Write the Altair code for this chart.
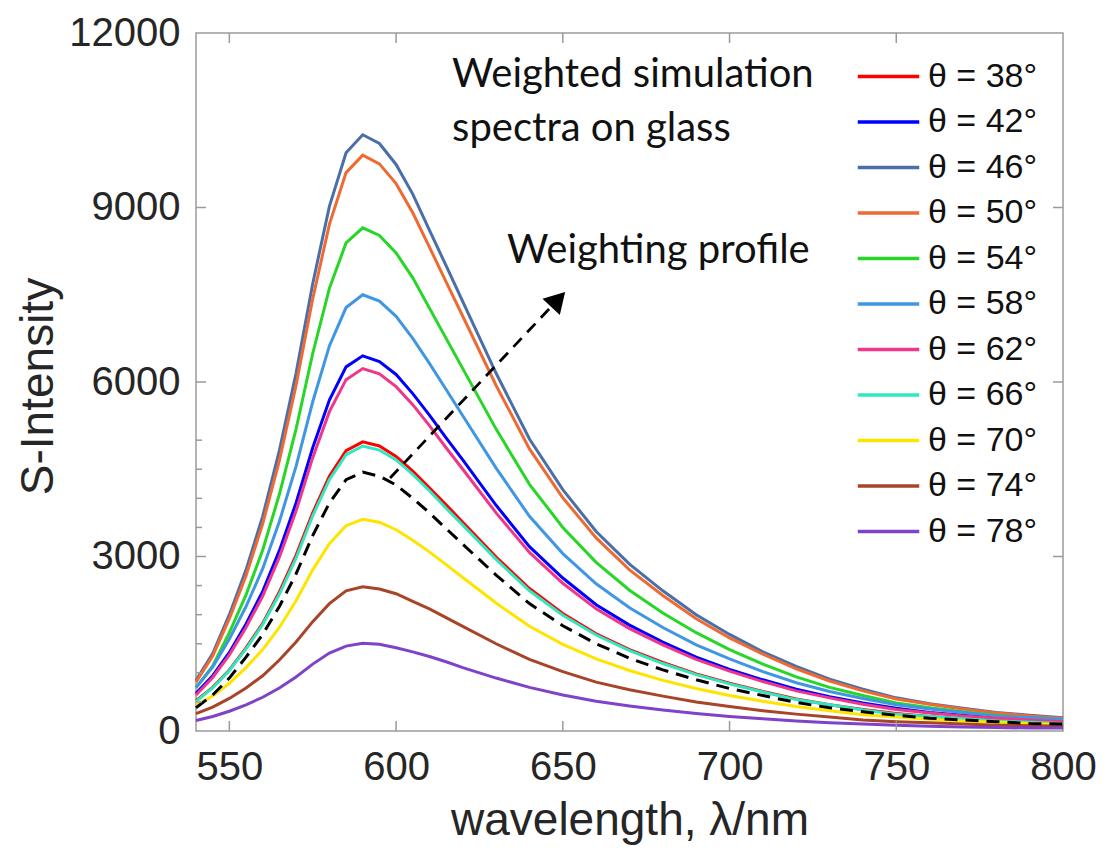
import altair as alt
import pandas as pd

# ---------------- data ----------------
wavelength = [540, 545, 550, 555, 560, 565, 570, 575, 580, 585, 590, 595, 600, 605, 610, 615, 620,
              630, 640, 650, 660, 670, 680, 690, 700, 710, 720, 730, 740, 750, 760, 770, 780, 790, 800]

angles = ["38", "42", "46", "50", "54", "58", "62", "66", "70", "74", "78"]
colors = ["#ff0000", "#0000ff", "#4a6fa8", "#ef6a32", "#27d627", "#3f97e3",
          "#f0368a", "#30e8c0", "#ffe400", "#a84428", "#7e43c9"]

s38 = [520, 750, 1050, 1430, 1850, 2390, 3020, 3750, 4380, 4820, 4970, 4900, 4720, 4470, 4180, 3890, 3590,
       2990, 2450, 2020, 1670, 1400, 1180, 980, 820, 680, 550, 450, 370, 300, 250, 210, 170, 150, 130]
s42 = [650, 950, 1350, 1840, 2400, 3100, 3920, 4870, 5690, 6260, 6450, 6350, 6130, 5800, 5430, 5040, 4660,
       3880, 3170, 2630, 2170, 1820, 1530, 1270, 1060, 880, 720, 590, 480, 390, 320, 270, 230, 190, 170]
s46 = [870, 1330, 2000, 2770, 3690, 4820, 6150, 7690, 9020, 9940, 10250, 10100, 9740, 9230, 8610, 8000, 7380,
       6150, 5020, 4150, 3430, 2870, 2410, 2000, 1660, 1360, 1110, 890, 720, 570, 470, 390, 320, 270, 230]
s50 = [840, 1290, 1930, 2670, 3560, 4650, 5940, 7430, 8710, 9600, 9900, 9750, 9410, 8910, 8320, 7720, 7130,
       5940, 4850, 4010, 3320, 2770, 2330, 1930, 1600, 1320, 1070, 860, 690, 550, 460, 380, 310, 260, 220]
s54 = [740, 1120, 1690, 2340, 3110, 4070, 5190, 6490, 7610, 8390, 8650, 8520, 8220, 7790, 7270, 6750, 6230,
       5190, 4240, 3500, 2900, 2420, 2030, 1690, 1400, 1150, 930, 750, 610, 480, 400, 330, 270, 220, 190]
s58 = [750, 1100, 1580, 2140, 2790, 3600, 4550, 5660, 6620, 7280, 7500, 7390, 7130, 6750, 6320, 5870, 5420,
       4520, 3690, 3050, 2530, 2120, 1780, 1480, 1240, 1020, 830, 680, 560, 450, 380, 320, 260, 230, 200]
s62 = [620, 920, 1310, 1780, 2320, 2990, 3780, 4700, 5490, 6040, 6230, 6140, 5920, 5610, 5250, 4870, 4500,
       3750, 3070, 2540, 2100, 1760, 1480, 1230, 1030, 850, 690, 570, 460, 370, 310, 260, 220, 190, 160]
s66 = [510, 740, 1040, 1410, 1830, 2350, 2970, 3700, 4320, 4750, 4900, 4830, 4660, 4410, 4130, 3830, 3540,
       2950, 2410, 1990, 1650, 1380, 1160, 970, 810, 670, 540, 450, 360, 290, 250, 210, 170, 150, 130]
s70 = [440, 600, 820, 1090, 1400, 1780, 2240, 2770, 3220, 3530, 3640, 3590, 3460, 3280, 3080, 2860, 2640,
       2200, 1800, 1490, 1240, 1040, 870, 730, 610, 510, 420, 350, 280, 240, 200, 170, 150, 130, 110]
s74 = [300, 410, 560, 740, 950, 1220, 1530, 1880, 2190, 2410, 2480, 2440, 2360, 2230, 2100, 1950, 1800,
       1500, 1230, 1020, 840, 710, 600, 500, 420, 350, 290, 240, 190, 160, 140, 120, 100, 90, 80]
s78 = [180, 250, 340, 450, 580, 740, 930, 1150, 1340, 1460, 1510, 1490, 1430, 1360, 1280, 1190, 1090,
       910, 750, 620, 510, 430, 360, 300, 250, 210, 170, 140, 120, 100, 80, 70, 60, 50, 50]
series = [s38, s42, s46, s50, s54, s58, s62, s66, s70, s74, s78]

weighting = [400, 620, 910, 1270, 1660, 2140, 2700, 3360, 3920, 4320, 4450, 4380, 4230, 4000, 3750, 3480, 3210,
             2680, 2190, 1810, 1500, 1250, 1050, 880, 730, 610, 490, 400, 330, 270, 220, 190, 160, 130, 120]

x_ticks = [550, 600, 650, 700, 750, 800]
y_ticks = [0, 3000, 6000, 9000, 12000]
y_minor = [500, 1000, 1500, 2000, 2500, 3500, 4000, 4500, 5000]

arrow_wl = [598.2, 648.6]
arrow_I = [4350, 7420]
head_wl = [648.6]
head_I = [7420]

notes = ["Weighted simulation", "spectra on glass", "Weighting profile"]
notes_wl = [616.8, 616.8, 633.3]
notes_I = [11071, 10143, 8045]

# ---------------- layout constants ----------------
W, H = 867, 698
AX = "#9a9a9a"
TXT = "#262626"
labels = [f"θ = {a}°" for a in angles]

rows = []
for lab, vals in zip(labels, series):
    for wl, v in zip(wavelength, vals):
        rows.append({"series": lab, "wl": wl, "I": v})
df = pd.DataFrame(rows)
dfw = pd.DataFrame({"wl": wavelength, "I": weighting})

xscale = alt.Scale(domain=[540, 800], nice=False, zero=False)
yscale = alt.Scale(domain=[0, 12000], nice=False)

xaxis = alt.Axis(values=x_ticks, ticks=False, domain=False, grid=False, labelFontSize=40,
                 labelFont="Liberation Sans", labelColor=TXT, labelPadding=16, labelFlush=False,
                 title="wavelength, λ/nm", titleFontSize=46, titleFont="Liberation Sans",
                 titleFontWeight="normal", titleColor=TXT, titleBaseline="alphabetic", titleY=103)
yaxis = alt.Axis(values=y_ticks, ticks=False, domain=False, grid=False, labelFontSize=40,
                 labelFont="Liberation Sans", labelColor=TXT, labelPadding=16, labelFlush=False,
                 format="d", title="S-Intensity", titleFontSize=46, titleFont="Liberation Sans",
                 titleFontWeight="normal", titleColor=TXT, titleAngle=270, titleX=-158, titleY=H / 2 + 4,
                 titleBaseline="middle", titleAlign="center")

lines = alt.Chart(df).mark_line(strokeWidth=3).encode(
    x=alt.X("wl:Q", scale=xscale, axis=xaxis),
    y=alt.Y("I:Q", scale=yscale, axis=yaxis),
    color=alt.Color("series:N", scale=alt.Scale(domain=labels, range=colors), title=None,
                    legend=alt.Legend(orient="none", legendX=670, legendY=21, padding=0,
                                      symbolType="M-1.5,0L1.5,0", symbolSize=1681,
                                      symbolStrokeWidth=3.5, labelFontSize=34,
                                      labelFont="Liberation Sans", labelColor="#111111",
                                      labelOffset=17, rowPadding=5.5)),
)

wline = alt.Chart(dfw).mark_line(color="black", strokeWidth=3, strokeDash=[13, 8]).encode(
    x=alt.X("wl:Q"), y=alt.Y("I:Q"))

arrow = alt.Chart(pd.DataFrame({"wl": arrow_wl, "I": arrow_I})).mark_line(
    color="black", strokeWidth=2.8, strokeDash=[12, 8]).encode(x="wl:Q", y="I:Q")
head = alt.Chart(pd.DataFrame({"wl": head_wl, "I": head_I})).mark_point(
    shape="triangle-up", filled=True, size=560, angle=43, color="black", opacity=1).encode(
    x="wl:Q", y="I:Q")

text = alt.Chart(pd.DataFrame({"t": notes, "wl": notes_wl, "I": notes_I})).mark_text(
    align="left", baseline="alphabetic", font="Lato", fontSize=40, color="#111111").encode(
    x="wl:Q", y="I:Q", text="t:N")

dxt = pd.DataFrame({"wl": x_ticks[:-1]})
dyt = pd.DataFrame({"I": y_ticks[1:-1]})
dym = pd.DataFrame({"I": y_minor})
tick_style = dict(color=AX, strokeWidth=1.5)
t_bottom = alt.Chart(dxt).mark_rule(**tick_style).encode(x="wl:Q", y=alt.value(H), y2=alt.value(H - 10))
t_top = alt.Chart(dxt).mark_rule(**tick_style).encode(x="wl:Q", y=alt.value(0), y2=alt.value(10))
t_left = alt.Chart(dyt).mark_rule(**tick_style).encode(y="I:Q", x=alt.value(0), x2=alt.value(10))
t_right = alt.Chart(dyt).mark_rule(**tick_style).encode(y="I:Q", x=alt.value(W), x2=alt.value(W - 10))
t_minor = alt.Chart(dym).mark_rule(**tick_style).encode(y="I:Q", x=alt.value(0), x2=alt.value(6))

chart = alt.layer(lines, wline, arrow, head, text, t_bottom, t_top, t_left, t_right, t_minor).properties(
    width=W, height=H,
    autosize=alt.AutoSizeParams(type="none"),
    padding={"left": 196, "top": 33, "right": 47, "bottom": 119},
    background="white",
).configure_view(stroke=AX, strokeWidth=1.5)

chart.save("out.html", embed_options={"renderer": "svg", "actions": False})
